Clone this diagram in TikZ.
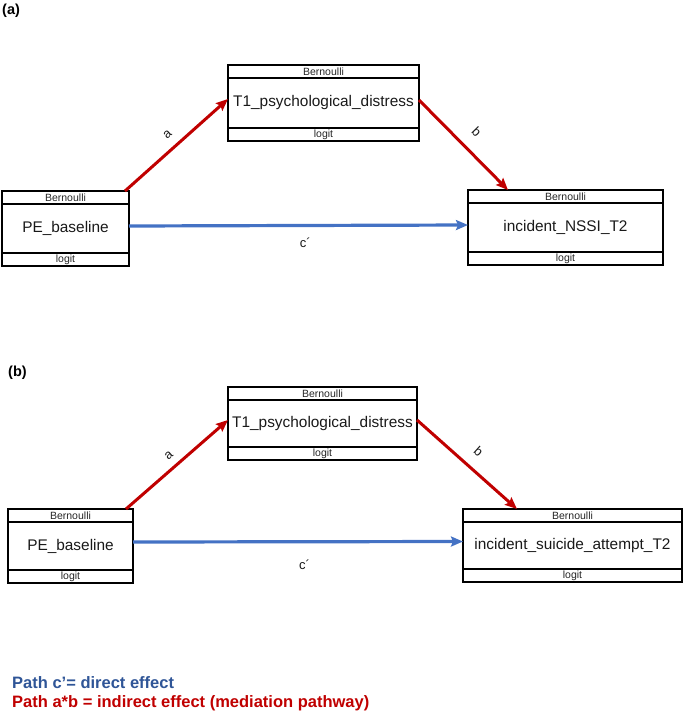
\documentclass[tikz,border=0pt]{standalone}
\usepackage{fontspec}
\setmainfont{Liberation Sans}
\usetikzlibrary{arrows.meta}
\definecolor{arrred}{HTML}{C00000}
\definecolor{arrblue}{HTML}{4472C4}
\definecolor{legblue}{HTML}{2F5597}
\definecolor{legred}{HTML}{C00000}
\newcommand{\varbox}[6]{%
  \node[strip, minimum width=#4pt, anchor=north west] (#1top) at (#2,#3) {Bernoulli};
  \node[mainbx, minimum width=#4pt, minimum height=#5pt, anchor=north] (#1) at (#1top.south) {#6};
  \node[strip, minimum width=#4pt, anchor=north] (#1bot) at (#1.south) {logit};}
\begin{document}
\begin{tikzpicture}[x=1pt,y=-1pt,
  strip/.style={draw, line width=1.4pt, inner sep=0pt, outer sep=0pt, minimum height=13pt,
    font=\fontsize{10.5}{12}\selectfont, text=black!85},
  mainbx/.style={draw, line width=1.4pt, inner sep=0pt, outer sep=0pt,
    font=\fontsize{15.4}{18}\selectfont, text=black!90},
  redarr/.style={draw=arrred, line width=3pt, -{Stealth[length=12pt,width=10pt,inset=2pt]}},
  bluearr/.style={draw=arrblue, line width=3.2pt, -{Stealth[length=12pt,width=10pt,inset=2pt]}},
  lbl/.style={font=\fontsize{13}{15}\selectfont, text=black!90},
  panel/.style={anchor=north west, inner sep=0pt, font=\bfseries\fontsize{14.5}{17}\selectfont},
  legend/.style={anchor=base west, inner sep=0pt, font=\bfseries\fontsize{16.5}{19}\selectfont}
]
\useasboundingbox (0,0) rectangle (685,713);

% ---------- panel (a) ----------
\node[panel] (pa) at (2,4) {(a)};
\varbox{peA}{2}{191}{127}{49}{PE\_baseline}
\varbox{tA}{228}{65}{191}{50}{T1\_psychological\_distress}
\varbox{nA}{468}{190}{195}{49}{incident\_NSSI\_T2}

\draw[redarr] ([xshift=-4pt]peAtop.north east) -- node[lbl, pos=.5, sloped, above=5pt] {a} ([yshift=4pt]tA.west);
\draw[redarr] ([yshift=3pt]tA.east) -- node[lbl, pos=.5, sloped, above=9pt] {b} ([xshift=40pt]nAtop.north west);
\draw[bluearr] ([yshift=2.5pt]peA.east) -- node[lbl, pos=.52, below=8pt] {c´} ([yshift=2.5pt]nA.west);

% ---------- panel (b) ----------
\node[panel] (pb) at (8,366) {(b)};
\varbox{peB}{8}{509}{125}{48}{PE\_baseline}
\varbox{tB}{228}{387}{189}{47}{T1\_psychological\_distress}
\varbox{sB}{463}{509}{219}{47}{incident\_suicide\_attempt\_T2}

\draw[redarr] ([xshift=-7pt]peBtop.north east) -- node[lbl, pos=.5, sloped, above=4pt] {a} ([yshift=3.5pt]tB.west);
\draw[redarr] ([yshift=3.5pt]tB.east) -- node[lbl, pos=.5, sloped, above=8pt] {b} ([xshift=54pt]sBtop.north west);
\draw[bluearr] ([yshift=4pt]peB.east) -- node[lbl, pos=.52, below=13pt] {c´} ([yshift=4pt]sB.west);

% ---------- legend ----------
\node[legend, text=legblue] (leg1) at (12,688) {Path c’= direct effect};
\node[legend, text=legred] (leg2) at (12,707) {Path a*b = indirect effect (mediation pathway)};
\end{tikzpicture}
\end{document}
